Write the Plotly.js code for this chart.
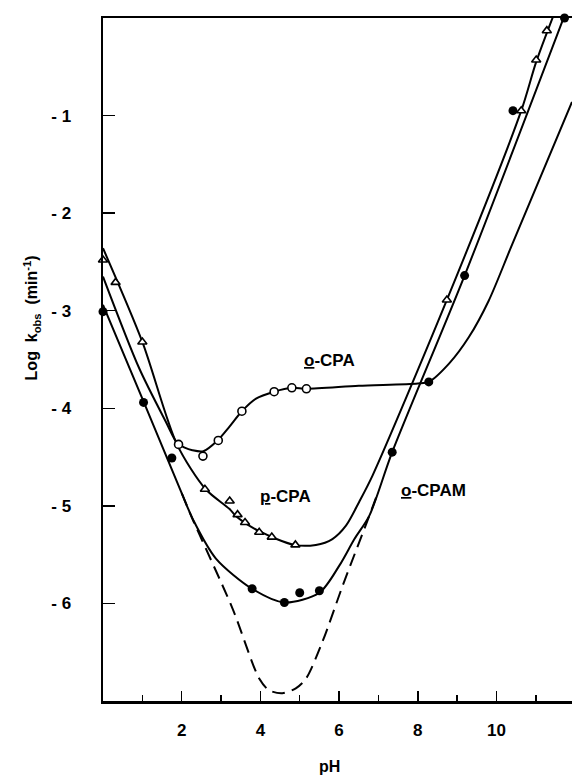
<!DOCTYPE html>
<html>
<head>
<meta charset="utf-8">
<script src="https://cdn.plot.ly/plotly-3.0.1.min.js"></script>
<style>html,body{margin:0;padding:0;background:#fff;}#chart{width:573px;height:784px;}</style>
</head>
<body>
<div id="chart"></div>
<script>
// ---- data ----
// fitted curves (pH, log kobs)
var oCpaCurveX  = [0, 0.92, 1.60, 1.89, 2.06, 2.27, 2.55, 2.91, 3.21, 3.53, 3.89, 4.35, 4.80, 5.17, 6.50, 8.00, 8.28, 8.80, 9.30, 9.80, 10.40, 11.92];
var oCpaCurveY  = [-2.65, -3.59, -4.14, -4.36, -4.40, -4.43, -4.44, -4.33, -4.19, -4.03, -3.90, -3.83, -3.79, -3.80, -3.77, -3.745, -3.73, -3.54, -3.27, -2.90, -2.32, -0.86];

var pCpaCurveX  = [0, 1.00, 1.88, 2.61, 3.21, 3.42, 3.97, 4.86, 5.41, 5.83, 6.18, 6.51, 6.85, 8.74, 10.63, 11.01, 11.52];
var pCpaCurveY  = [-2.36, -3.32, -4.37, -4.83, -5.03, -5.12, -5.26, -5.40, -5.40, -5.34, -5.20, -4.96, -4.69, -2.89, -0.95, -0.45, 0.10];

var oCpamCurveX = [0, 1.00, 2.00, 2.30, 2.87, 3.79, 4.61, 5.50, 6.01, 6.39, 6.77, 7.35, 9.19, 11.80];
var oCpamCurveY = [-2.94, -3.90, -4.87, -5.15, -5.54, -5.85, -5.99, -5.89, -5.61, -5.34, -5.10, -4.45, -2.64, 0.10];

var dashedCurveX = [2.00, 2.27, 3.29, 3.97, 4.22, 4.56, 4.90, 5.16, 5.58, 6.09, 6.77, 7.00];
var dashedCurveY = [-4.87, -5.13, -6.05, -6.77, -6.89, -6.92, -6.87, -6.77, -6.39, -5.82, -5.10, -4.85];

// measured points
var openCircleX = [1.92, 2.54, 2.93, 3.53, 4.35, 4.80, 5.17];
var openCircleY = [-4.37, -4.49, -4.33, -4.03, -3.83, -3.79, -3.80];

var triangleX = [0, 0.32, 1.00, 2.59, 3.22, 3.42, 3.61, 3.97, 4.29, 4.89, 8.74, 10.63, 11.01, 11.28];
var triangleY = [-2.48, -2.71, -3.32, -4.83, -4.95, -5.09, -5.17, -5.27, -5.32, -5.40, -2.89, -0.95, -0.43, -0.13];

var filledX = [0, 1.03, 1.75, 3.79, 4.61, 5.00, 5.50, 7.35, 8.28, 9.19, 10.42, 11.73];
var filledY = [-3.01, -3.94, -4.51, -5.85, -5.99, -5.89, -5.87, -4.45, -3.73, -2.64, -0.95, 0.00];

// axis ticks and labels
var xTickVals = [2, 4, 6, 8, 10];
var xTickText = ['2', '4', '6', '8', '10'];
var xMinorVals = [1, 3, 5, 7, 9, 11];
var yTickVals = [-1, -2, -3, -4, -5, -6];
var yTickText = ['- 1', '- 2', '- 3', '- 4', '- 5', '- 6'];

var curveLabels = ['<u>o</u>-CPA', '<u>p</u>-CPA', '<u>o</u>-CPAM'];
var curveLabelX = [5.75, 4.63, 8.40];
var curveLabelY = [-3.51, -4.90, -4.84];

// ---- drawing ----
var FONT = 'Liberation Sans, Arial, Helvetica, sans-serif';
function bold(s) { return '<b>' + s + '</b>'; }
function curve(x, y, dash) {
  return {x: x, y: y, mode: 'lines', type: 'scatter', hoverinfo: 'skip',
          line: {color: '#000', width: 2, shape: 'spline', smoothing: 0.8, dash: dash || 'solid'}};
}
var traces = [
  curve(dashedCurveX, dashedCurveY, '13px,7px'),
  curve(oCpaCurveX, oCpaCurveY),
  curve(pCpaCurveX, pCpaCurveY),
  curve(oCpamCurveX, oCpamCurveY),
  {x: openCircleX, y: openCircleY, mode: 'markers', type: 'scatter', cliponaxis: false,
   marker: {symbol: 'circle', size: 8, color: '#fff', line: {color: '#000', width: 1.6}}},
  {x: triangleX, y: triangleY, mode: 'markers', type: 'scatter', cliponaxis: false,
   marker: {symbol: 'triangle-up', size: 8, color: '#fff', line: {color: '#000', width: 1.6}}},
  {x: filledX, y: filledY, mode: 'markers', type: 'scatter', cliponaxis: false,
   marker: {symbol: 'circle', size: 9, color: '#000', line: {color: '#000', width: 0}}}
];

var annotations = [];
for (var i = 0; i < curveLabels.length; i++) {
  annotations.push({x: curveLabelX[i], y: curveLabelY[i], xref: 'x', yref: 'y', text: bold(curveLabels[i]),
    showarrow: false, font: {family: FONT, size: 17, color: '#000'}});
}
annotations.push({x: -0.18, y: 0.561, xref: 'paper', yref: 'paper', textangle: -90, showarrow: false,
  text: bold('Log  k<sub>obs</sub>  (min<sup>-1</sup>)'), font: {family: FONT, size: 16, color: '#000'}});
annotations.push({x: 0.484, y: -0.111, xref: 'paper', yref: 'paper', showarrow: false,
  text: bold('pH'), font: {family: FONT, size: 16, color: '#000'}});

var layout = {
  width: 573, height: 784,
  margin: {l: 103, r: 1, t: 18, b: 83},
  paper_bgcolor: '#fff', plot_bgcolor: '#fff',
  showlegend: false,
  xaxis: {range: [0, 11.92], showgrid: false, zeroline: false,
    showline: true, linecolor: '#000', linewidth: 2.5, mirror: true,
    tickmode: 'array', tickvals: xTickVals, ticktext: xTickText.map(bold),
    ticks: 'inside', ticklen: 10, tickwidth: 1.5, tickcolor: '#000',
    ticklabelstandoff: 12,
    minor: {tickmode: 'array', tickvals: xMinorVals, ticks: 'inside', ticklen: 6, tickwidth: 1.5, tickcolor: '#000', showgrid: false},
    tickfont: {family: FONT, size: 17, color: '#000'}},
  yaxis: {range: [-7, 0], showgrid: false, zeroline: false,
    showline: true, linecolor: '#000', linewidth: 2.5, mirror: false,
    tickmode: 'array', tickvals: yTickVals, ticktext: yTickText.map(bold),
    ticks: 'inside', ticklen: 12, tickwidth: 1.5, tickcolor: '#000',
    ticklabelstandoff: 26,
    tickfont: {family: FONT, size: 17, color: '#000'}},
  annotations: annotations
};

Plotly.newPlot('chart', traces, layout, {staticPlot: true, displayModeBar: false});
</script>
</body>
</html>
